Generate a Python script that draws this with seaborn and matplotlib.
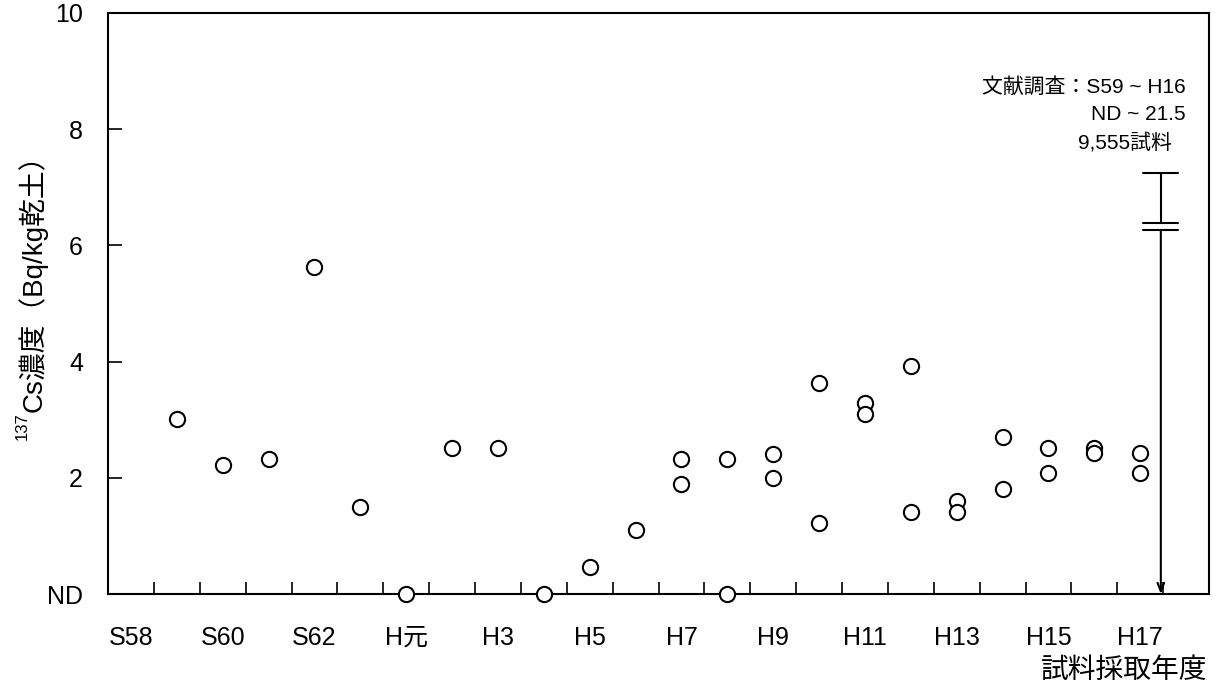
import numpy as np
import pandas as pd
import seaborn as sns
import matplotlib.pyplot as plt

# fiscal years on the x axis (S = Showa, H = Heisei)
YEARS = ['S58', 'S59', 'S60', 'S61', 'S62', 'S63', 'H元', 'H2', 'H3', 'H4', 'H5', 'H6',
         'H7', 'H8', 'H9', 'H10', 'H11', 'H12', 'H13', 'H14', 'H15', 'H16', 'H17', 'H18']
TICK_LABELS = ['S58', 'S60', 'S62', 'H元', 'H3', 'H5', 'H7', 'H9', 'H11', 'H13', 'H15', 'H17']

# measured samples, ND plotted as 0
obs_year = ['S59', 'S60', 'S61', 'S62', 'S63', 'H元', 'H2', 'H3', 'H4', 'H5', 'H6',
            'H7', 'H7', 'H8', 'H8', 'H9', 'H9', 'H10', 'H10', 'H11', 'H11',
            'H12', 'H12', 'H13', 'H13', 'H14', 'H14', 'H15', 'H15', 'H16', 'H16',
            'H17', 'H17']
obs_value = [3.01, 2.22, 2.32, 5.62, 1.50, 0.0, 2.52, 2.52, 0.0, 0.46, 1.11,
             2.32, 1.89, 2.32, 0.0, 2.41, 2.00, 3.63, 1.22, 3.29, 3.10,
             3.92, 1.41, 1.60, 1.41, 2.71, 1.80, 2.52, 2.09, 2.52, 2.42,
             2.42, 2.09]

# literature range ND ~ 21.5, drawn with an axis break
lit_pos = 22.45
lit_top_drawn = 7.25
lit_break = [6.39, 6.26]
lit_bottom = 0.0

W, H = 1218, 689
sns.set_theme(style='ticks')
plt.rcParams['font.family'] = ['Liberation Sans', 'Noto Sans CJK JP', 'DejaVu Sans']
plt.rcParams['text.color'] = 'black'
plt.rcParams['xtick.color'] = 'black'
plt.rcParams['ytick.color'] = 'black'

fig = plt.figure(figsize=(W / 100, H / 100), dpi=100)
ax = fig.add_axes([108 / W, 1 - 594 / H, (1209 - 108) / W, (594 - 13) / H])

df = pd.DataFrame({'pos': [YEARS.index(y) for y in obs_year], 'value': obs_value})
sns.scatterplot(data=df, x='pos', y='value', ax=ax, marker='o', s=120,
                color='white', edgecolor='black', linewidth=1.5, zorder=5,
                clip_on=False, legend=False)

# literature range bar
cap = 0.38
ax.plot([lit_pos, lit_pos], [lit_top_drawn, lit_break[0]], color='black', lw=1.5)
ax.plot([lit_pos - cap, lit_pos + cap], [lit_top_drawn] * 2, color='black', lw=1.5)
for b in lit_break:
    ax.plot([lit_pos - cap, lit_pos + cap], [b, b], color='black', lw=1.5)
ax.annotate('', xy=(lit_pos, lit_bottom), xytext=(lit_pos, lit_break[1]),
            arrowprops=dict(arrowstyle='->,head_length=0.5,head_width=0.2',
                            color='black', lw=1.5, shrinkA=0, shrinkB=0))
ax.text(23.0, 8.73, '文献調査：S59 ~ H16', ha='right', va='center', fontsize=15)
ax.text(23.0, 8.25, 'ND ~ 21.5', ha='right', va='center', fontsize=15)
ax.text(22.7, 7.77, '9,555試料', ha='right', va='center', fontsize=15)

ax.set_xlim(-0.5, len(YEARS) - 0.5)
ax.set_ylim(0, 10)
ax.set_xticks(np.arange(-0.5, len(YEARS) - 0.5, 1.0))
ax.set_xticklabels([])
ax.set_xticks([YEARS.index(t) for t in TICK_LABELS], labels=TICK_LABELS, minor=True)
ax.tick_params(axis='x', which='major', direction='in', length=9, width=1.2)
ax.tick_params(axis='x', which='minor', length=0, pad=23, labelsize=18)
ax.set_yticks([0, 2, 4, 6, 8, 10], labels=['ND', '2', '4', '6', '8', '10'])
ax.tick_params(axis='y', direction='in', length=10, width=1.2, pad=18, labelsize=18)
for s in ax.spines.values():
    s.set_linewidth(1.5)
    s.set_color('black')
ax.set_xlabel('')
ax.set_ylabel('')

# y label with superscript mass number
fig.text(42 / W, 1 - 412 / H, 'Cs濃度（Bq/kg乾土）', rotation=90, rotation_mode='anchor',
         ha='left', va='baseline', fontsize=20)
fig.text(27 / W, 1 - 412 / H, '137', rotation=90, rotation_mode='anchor',
         ha='right', va='baseline', fontsize=12)
fig.text(1207 / W, 1 - 671 / H, '試料採取年度', ha='right', va='center', fontsize=20)

fig.savefig('out.png', dpi=100)
